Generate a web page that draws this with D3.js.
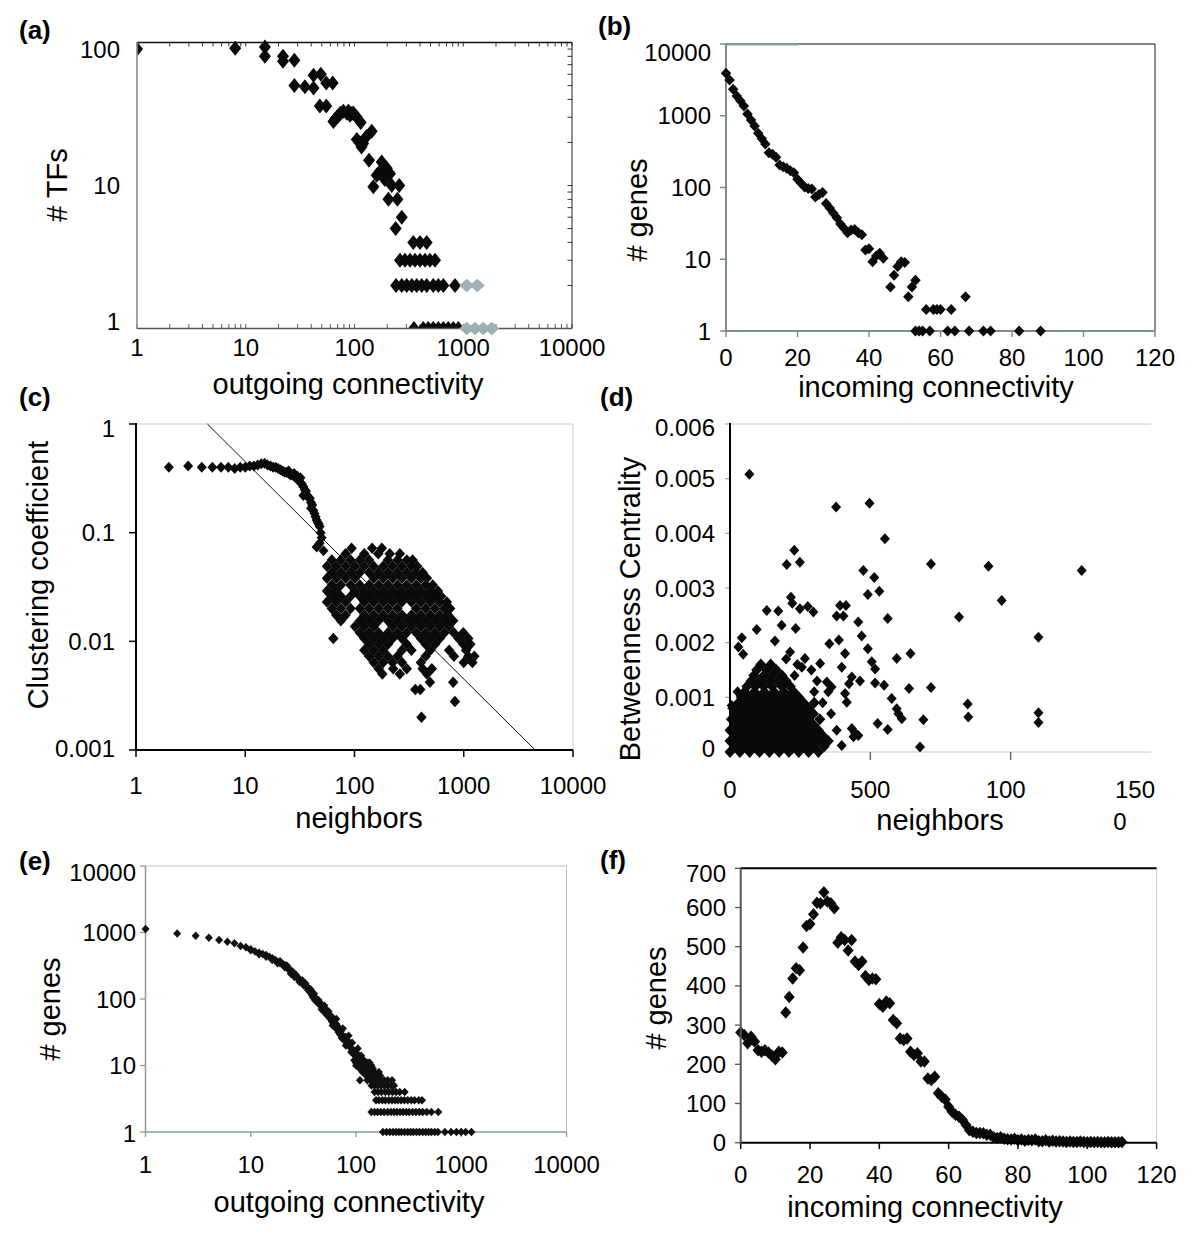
<!DOCTYPE html>
<html><head><meta charset="utf-8">
<script src="https://cdn.jsdelivr.net/npm/d3@7"></script>
<style>
body{margin:0;background:#fff}
svg{display:block;font-family:"Liberation Sans",Arial,Helvetica,sans-serif}
</style></head><body>
<svg id="chart" width="1200" height="1243"></svg>
<script>
// ---------------- DATA ----------------
// (a) outgoing connectivity of TFs (log-log)
const aTFsBlack = [[1,90],[8,91],[15,93],[15,80],[22,80],[22,74],[28,75],[28,50],[35,49],[42,59],[42,48],[49,60],[55,52],[63,52],[48,36],[55,36],
 [64,28],[66,29],[69,30],[72,31],[74,32],[79,33],[85,32],[88,33],[91,31],[95,32],[98,32],[105,30],[114,27.6],
 [144,24],[105,21],[112,20],[120,19.7],[129,22],[116,18.6],
 [136,15],[178,14.6],[198,13.2],[170,12.5],[160,11.8],[190,11],[149,9.8],[212,12.1],
 [220,10],[258,10],[205,8],[248,8],[272,6],[239,5],
 [347,4],[400,4],[461,4],
 [262,3],[291,3],[324,3],[360,3],[400,3],[445,3],[494,3],[550,3],
 [241,2],[272,2],[302,2],[336,2],[373,2],[415,2],[461,2],[530,2],[590,2],[656,2],[840,2],
 [352,1],[429,1],[477,1],[530,1],[590,1],[656,1],[729,1],[811,1],[901,1]];
const aTFsGrey = [[1076,2],[1346,2],[1076,1],[1282,1],[1528,1],[1827,1]];
const aXTicks = [1,10,100,1000,10000];
const aYTicks = [1,10,100];

// (b) incoming connectivity of genes (log y)
const bGenes = [[0,3900],[1,3150],[2,2340],[3,1880],[4,1620],[5,1370],[6,1060],[7,870],[8,720],[9,570],[10,480],[11,404],[12,305],[13,290],[14,263],[15,206],[16,195],[17,185],[18,171],[19,160],[20,130],[21,115],[22,102],[23,97],[24,95],[25,74],[26,80],[27,85],[28,60],[29,52],[30,44],[31,38],[32,31],[33,27],[34,23.4],[35,25.6],[36,26],[37,23.4],[38,22],[39,13.5],[40,14],[41,9.2],[42,11.1],[43,12.1],[44,10.3],[46,4.1],[47,6],[48,7.9],[49,9.2],[50,9],[51,3],[52,4.1],[53,5.1],
 [53,1],[54,1],[55,1],[56,2],[57,1],[58,2],[59,2],[60,2],[62,1],[63,2],[64,1],[67,3],[68,1],[72,1],[74,1],[82,1],[88,1]];
const bXTicks = [0,20,40,60,80,100,120];
const bYTicks = [1,10,100,1000,10000];

// (c) clustering coefficient vs neighbors (log-log)
const cPlateau = [[2,0.40],[3,0.41],[4,0.40],[5,0.40],[6,0.40],[7,0.40],[8,0.39],[9,0.40],[10,0.40],[11,0.41],[12,0.41],[13,0.42],[14,0.43],[15,0.435],[16,0.42],[17,0.41],[18,0.40],[19,0.40],[20,0.39],[21,0.38],[22,0.37],[23,0.36],[24,0.36],[25,0.35],[25,0.37],[26,0.34],[27,0.34],[28,0.33],[28,0.35],[29,0.32],[30,0.31],[30,0.33],[31,0.305],[32,0.29],[32,0.32],[33,0.28],[34,0.265],[34,0.22],[35,0.25],[36,0.24],[37,0.22],[38,0.21],[39,0.207],[40,0.19],[40,0.168],[41,0.18],[42,0.16],[43,0.15],[44,0.14],[45,0.131],[46,0.125],[47,0.12],[48,0.114],[49,0.1],[50,0.09],[45,0.074],[52,0.068],[48,0.08]];
const cCloudRows = [
 [0.072,[94,145,178]],
 [0.064,[83,123,165,210,260]],
 [0.056,[62,75,92,112,136,202,247,301,340]],
 [0.049,[56,68,83,101,123,150,183,223,272,332,375]],
 [0.043,[62,75,92,112,136,166,202,247,301,367,420]],
 [0.038,[56,68,83,101,150,183,223,272,332,405,460]],
 [0.033,[62,75,92,112,136,166,202,247,301,367,448,520]],
 [0.029,[56,68,101,123,150,183,223,272,332,405,494,580]],
 [0.026,[62,75,92,112,136,166,202,247,301,367,448,546,620]],
 [0.023,[56,68,83,123,150,183,223,272,332,405,494,603,700]],
 [0.020,[62,75,92,112,136,166,202,247,367,448,546,666,750]],
 [0.0175,[68,83,123,150,183,223,272,332,405,494,603,720]],
 [0.0155,[75,112,136,166,202,247,301,367,448,546,666,800]],
 [0.0137,[101,123,150,223,272,332,405,494,603,735]],
 [0.012,[112,136,166,202,247,301,367,448,546,666,812,990]],
 [0.0106,[64,123,150,183,223,272,405,494,603,897,1100]],
 [0.0094,[136,166,202,301,448,546,990,1150]],
 [0.0083,[123,150,183,272,332,494,735,1050]],
 [0.0073,[136,166,202,247,448,812,1100,1250]],
 [0.0064,[150,183,223,272,405,1000,1200]],
 [0.0056,[166,226,301,420,510]],
 [0.0050,[180,260,460]],
 [0.0042,[490,800]],
 [0.0036,[360,400]],
 [0.0028,[830]],
 [0.0020,[410]]];
const cFitLine = [[4.5,1],[4500,0.001]];
const cXTicks = [1,10,100,1000,10000];
const cYTicks = [0.001,0.01,0.1,1];
const cYLabels = ["0.001","0.01","0.1","1"];

// (d) betweenness centrality vs neighbors (linear)
const dCoreRows = [
 [0,[0,35,70,105,140,175,210,245,280,315]],
 [0.0001,[17,52,87,122,157,192,227,262,297,335]],
 [0.0002,[0,35,70,105,140,175,210,245,280,315,350]],
 [0.0003,[17,52,87,122,157,192,227,262,297,330]],
 [0.0004,[0,35,70,105,140,175,210,245,280,315]],
 [0.0005,[17,52,87,122,157,192,227,262,297]],
 [0.0006,[5,35,70,105,140,175,210,245,280,320]],
 [0.0007,[17,52,87,122,157,192,227,262,297]],
 [0.0008,[10,35,70,105,140,175,210,245,280]],
 [0.0009,[30,52,87,122,157,192,227,262,300]],
 [0.001,[40,70,105,140,175,210,245]],
 [0.0011,[52,87,122,157,192,227]],
 [0.0012,[60,90,120,150,185,215]],
 [0.0013,[75,105,140,170,200]],
 [0.0014,[85,120,150,185]],
 [0.0015,[95,130,165]],
 [0.0016,[110,145]]];
const dOutliers = [[69,0.00508],[378,0.00448],[497,0.00455],[552,0.0039],[229,0.00369],[202,0.00343],[249,0.00347],[716,0.00344],[921,0.0034],[1253,0.00332],[475,0.00332],[514,0.00319],[532,0.00294],[491,0.00288],[968,0.00277],[217,0.00283],[222,0.00272],[131,0.00259],[172,0.00258],[249,0.00262],[277,0.00266],[297,0.00256],[392,0.00268],[413,0.00268],[380,0.00249],[404,0.00249],[562,0.00244],[816,0.00247],[457,0.00238],[95,0.00224],[184,0.00232],[234,0.00226],[1099,0.0021],[42,0.00209],[160,0.00203],[469,0.00212],[30,0.00192],[388,0.00205],[491,0.00189],[354,0.00198],[47,0.00179],[214,0.00183],[410,0.0018],[594,0.00171],[643,0.0018],[505,0.00165],[517,0.00152],[398,0.00155],[321,0.00162],[267,0.00171],[256,0.00155],[463,0.0013],[517,0.00126],[549,0.00122],[638,0.00116],[716,0.00118],[424,0.00125],[576,0.00098],[594,0.00079],[600,0.0007],[612,0.00061],[689,0.00059],[526,0.00052],[562,0.00041],[677,0.00009],[847,0.00088],[849,0.00064],[1099,0.00072],[1099,0.00054],[398,0.00012],[434,0.00043],[445,0.00035],[457,0.0003],[440,0.00028],[327,0.00021],[380,0.0004],[410,0.00107],[416,0.00091],[350,0.0011],[362,0.00119],[345,0.00128],[434,0.00137],[300,0.0011],[310,0.0013],[330,0.0009],[360,0.0007],[290,0.0015],[230,0.0014],[240,0.0016],[200,0.0017],[27,0.0011],[6,0.00085]];
const dXTicks = [0,500,1000,1500];
const dXLabels = ["0","500","100","150"];
const dYTicks = [0,0.001,0.002,0.003,0.004,0.005,0.006];
const dYLabels = ["0","0.001","0.002","0.003","0.004","0.005","0.006"];

// (e) outgoing connectivity of genes (log-log)
const eCurve = [[1,1130],[2,970],[3,896],[4,835],[5,771],[6,728],[7,689],[8,627],[9,600],[10,558],[10,540],[11,520],[12,497],[13,475],[14,459],[15,430],[16,410],[17,390],[18,364],[19,345],[20,335],[21,324],[22,300],[23,275],[24,257],[25,240],[26,228],[27,216],[28,205],[30,190],[31,175],[33,172],[34,150],[36,140],[38,129],[38,115],[40,110],[42,100],[44,97],[44,85],[45,90],[46,82],[48,76],[50,80],[51,72],[51,62],[54,60],[55,65],[56,55],[59,54],[59,46],[60,40],[62,45],[65,42],[65,50],[68,38],[68,32],[70,30],[72,33],[75,28],[75,36],[79,27],[79,23],[80,20],[83,24],[85,28],[86,20],[90,18],[90,16],[92,22],[95,17],[96,12],[98,14],[100,15],[100,10],[104,18],[105,12],[108,9],[110,11],[112,14],[115,10],[118,12],[121,7.6],[125,9],[130,11],[109,6],
 [24,240],[26,215],[29,180],[32,160],[35,135],[37,125],[39,105],[41,95],[43,92],[47,70],[49,66],[53,57],[57,50],[61,42],[63,38],[66,35],[71,29],[73,26],[77,25],[82,22],[88,19],[94,15],[102,13],[107,14],[114,12],
 [12,470],[14,430],[16,385],[18,345],[19,370],[21,300],[22,320],[23,290],[25,260],[27,230],[29,200],[31,190],[33,160],[35,150],[37,140],[40,120]];
const eTailRows = [
 [12,[100,110,118]],
 [11,[100,112,125,135]],
 [10,[105,115,125,140]],
 [9,[110,120,132,145]],
 [8,[115,125,135,150,165]],
 [7,[125,135,145,158,170]],
 [6,[128,138,148,160,172,185,200,220]],
 [5,[140,150,160,172,185,200,215,230]],
 [4,[150,162,175,190,205,222,240,260,290]],
 [3,[155,165,178,190,205,220,235,250,268,288,310,335,360,395,424]],
 [2,[140,150,160,172,185,200,215,230,245,262,280,300,320,345,370,400,430,470,520,605]],
 [1,[180,195,210,225,240,255,270,290,310,330,350,375,400,430,460,490,520,560,600,700,800,900,1000,1100,1250]]];
const eXTicks = [1,10,100,1000,10000];
const eYTicks = [1,10,100,1000,10000];

// (f) incoming connectivity of genes (linear)
const fGenes = [[0,281],[1,275],[2,254],[3,270],[4,258],[5,236],[6,232],[7,236],[8,230],[9,222],[10,213],[11,232],[12,230],[13,332],[14,372],[15,419],[16,445],[17,440],[18,498],[19,553],[20,558],[21,583],[22,612],[23,611],[24,639],[25,615],[26,611],[27,598],[28,510],[29,524],[30,517],[31,490],[32,517],[33,462],[34,453],[35,462],[36,425],[37,415],[38,419],[39,417],[40,354],[41,347],[42,360],[43,356],[44,313],[45,305],[46,266],[47,262],[48,266],[49,232],[50,224],[51,228],[52,207],[53,207],[54,164],[55,160],[56,168],[57,126],[58,117],[59,110],[60,92],[61,79],[62,71],[63,66],[64,58],[65,45],[66,32],[67,28],[68,25],[69,25],[70,24],[71,20],[72,20],[73,14],[74,12],[75,14],[76,10],[77,9],[78,8],[79,10],[80,6],[81,8],[82,5],[83,7],[84,6],[85,8],[86,4],[87,4],[88,6],[89,3],[90,5],[91,3],[92,4],[93,3],[94,2],[95,3],[96,2],[97,2],[98,3],[99,2],[100,1],[101,2],[102,1],[103,2],[104,1],[105,1],[106,2],[107,1],[108,1],[109,1],[110,2]];
const fXTicks = [0,20,40,60,80,100,120];
const fYTicks = [0,100,200,300,400,500,600,700];

// ---------------- HELPERS ----------------
const svg = d3.select("#chart");
const TICK = 24, TITLE = 29;
function diamond(w,h){ return `M0,${-h/2}L${w/2},0L0,${h/2}L${-w/2},0Z`; }
function ln(g,x1,y1,x2,y2,stroke,w){ g.append("line").attr("x1",x1).attr("y1",y1).attr("x2",x2).attr("y2",y2).attr("stroke",stroke).attr("stroke-width",w); }
function pts(g,data,x,y,w,h,fill){
  return g.append("g").selectAll("path").data(data).join("path")
   .attr("d",diamond(w,h)).attr("fill",fill)
   .attr("transform",d=>`translate(${x(d[0])},${y(d[1])})`);
}
function txt(g,s,x,y,o={}){
  const t=g.append("text").attr("x",x).attr("y",y).text(s)
   .attr("font-size",o.size||TICK).attr("fill","#000")
   .attr("text-anchor",o.anchor||"middle");
  if(o.weight) t.attr("font-weight",o.weight);
  if(o.base) t.attr("dominant-baseline",o.base);
  if(o.rot) t.attr("transform",`rotate(-90,${x},${y})`);
  return t;
}
function rows(r){ return r.flatMap(([yv,xs])=>xs.map(xv=>[xv,yv])); }
function yLabels(g,ticks,labels,y,xr,topShift,botShift){
  const [y0,y1]=y.range();
  ticks.forEach((v,i)=>{
    let py=y(v);
    if(Math.abs(py-y1)<0.5) py+=topShift;
    if(Math.abs(py-y0)<0.5) py+=botShift;
    txt(g,labels[i],xr,py,{anchor:"end",base:"central"});
  });
}
function xLabels(g,ticks,labels,x,base,dx){
  ticks.forEach((v,i)=>txt(g,labels[i],x(v)+(dx?dx[i]:0),base));
}
const fmtInt = v=>String(v);

// ---------------- (a) ----------------
{
  const g=svg.append("g");
  const x=d3.scaleLog().domain([1,10000]).range([137,572]);
  const y=d3.scaleLog().domain([1,100]).range([328.5,42.5]);
  svg.append("defs").append("clipPath").attr("id","clipA").append("rect")
    .attr("x",x.range()[0]).attr("y",y.range()[1]-10).attr("width",x.range()[1]-x.range()[0]).attr("height",y.range()[0]-y.range()[1]+10);
  x.ticks().forEach(v=>{ ln(g,x(v),328.5,x(v),324,"#555",1); ln(g,x(v),42.5,x(v),46.5,"#333",1); });
  y.ticks().forEach(v=>ln(g,572,y(v),567.5,y(v),"#333",1));
  ln(g,137,42.5,572,42.5,"#111",1.3);
  ln(g,572,42.5,572,328.5,"#222",1);
  const gb=g.append("g").attr("clip-path","url(#clipA)");
  pts(gb,aTFsBlack,x,y,12,15,"#0a0a0a");
  ln(g,137,328.5,572,328.5,"#555",1.3);
  ln(g,137,42,137,329,"#8c8c8c",1.6);
  pts(g,aTFsGrey,x,y,15,13.5,"#9fb0b4");
  yLabels(g,aYTicks,aYTicks.map(fmtInt),y,120,7,-7);
  xLabels(g,aXTicks,aXTicks.map(fmtInt),x,356);
  txt(g,"# TFs",57,185,{size:TITLE,rot:true,base:"central"});
  txt(g,"outgoing connectivity",348,394,{size:TITLE});
  txt(g,"(a)",19,39,{size:26,weight:"bold",anchor:"start"});
}
// ---------------- (b) ----------------
{
  const g=svg.append("g");
  const x=d3.scaleLinear().domain([0,120]).range([726,1155]);
  const y=d3.scaleLog().domain([1,10000]).range([331,44]);
  ln(g,726,44,1155,44,"#111",1.2);
  ln(g,726,44.5,x(20),44.5,"#8a9ba2",2.2);
  ln(g,1155,44,1155,331,"#222",1);
  bXTicks.forEach(v=>ln(g,x(v),331,x(v),337,"#7d8e95",1.5));
  bYTicks.forEach(v=>ln(g,720,y(v),726,y(v),"#7d8e95",1.5));
  ln(g,726,331,1155,331,"#7d8e95",2);
  ln(g,726,43,726,332,"#7d8e95",2);
  pts(g,bGenes,x,y,10.5,11,"#0a0a0a");
  yLabels(g,bYTicks,bYTicks.map(fmtInt),y,711,8,0);
  xLabels(g,bXTicks,bXTicks.map(fmtInt),x,366);
  txt(g,"# genes",637,210,{size:TITLE,rot:true,base:"central"});
  txt(g,"incoming connectivity",936,397,{size:TITLE});
  txt(g,"(b)",598,35,{size:26,weight:"bold",anchor:"start"});
}
// ---------------- (c) ----------------
{
  const g=svg.append("g");
  const x=d3.scaleLog().domain([1,10000]).range([136,573]);
  const y=d3.scaleLog().domain([0.001,1]).range([750,424]);
  ln(g,136,424,573,424,"#c4ccd0",1);
  ln(g,573,424,573,750,"#c4ccd0",1);
  cXTicks.forEach(v=>ln(g,x(v),750,x(v),757,"#000",1.5));
  cYTicks.forEach(v=>ln(g,129,y(v),136,y(v),"#000",1.5));
  pts(g,cPlateau,x,y,10,11,"#0a0a0a");
  pts(g,rows(cCloudRows),x,y,10.5,11.5,"#0a0a0a");
  g.append("path").datum(cFitLine).attr("fill","none").attr("stroke","#111").attr("stroke-width",1)
   .attr("d",d3.line().x(d=>x(d[0])).y(d=>y(d[1])));
  ln(g,136,750,573,750,"#000",2);
  ln(g,136,423,136,751,"#000",2);
  yLabels(g,cYTicks,cYLabels,y,115,4,-2);
  xLabels(g,cXTicks,cXTicks.map(fmtInt),x,794);
  txt(g,"Clustering coefficient",38,575,{size:TITLE,rot:true,base:"central"});
  txt(g,"neighbors",359,828,{size:TITLE});
  txt(g,"(c)",19,406,{size:26,weight:"bold",anchor:"start"});
}
// ---------------- (d) ----------------
{
  const g=svg.append("g");
  const x=d3.scaleLinear().domain([0,1500]).range([730,1151]);
  const y=d3.scaleLinear().domain([0,0.006]).range([752,424]);
  ln(g,730,424,1151,424,"#c4ccd0",1);
  ln(g,730,752,1151,752,"#c4ccd0",1);
  dXTicks.slice(1,3).forEach(v=>ln(g,x(v),752,x(v),760,"#666",1.5));
  dYTicks.forEach(v=>ln(g,725,y(v),730,y(v),"#999",1));
  pts(g,rows(dCoreRows),x,y,11,12,"#0a0a0a");
  pts(g,dOutliers,x,y,10,11,"#0a0a0a");
  ln(g,730,423,730,753,"#000",2);
  yLabels(g,dYTicks,dYLabels,y,715,3,-4);
  xLabels(g,dXTicks,dXLabels,x,798,[0,0,-5,-16]);
  txt(g,"0",x(1500)-31,830);
  txt(g,"Betweenness Centrality",630,609,{size:TITLE,rot:true,base:"central"});
  txt(g,"neighbors",940,830,{size:TITLE});
  txt(g,"(d)",600,406,{size:26,weight:"bold",anchor:"start"});
}
// ---------------- (e) ----------------
{
  const g=svg.append("g");
  const x=d3.scaleLog().domain([1,10000]).range([145.5,566.5]);
  const y=d3.scaleLog().domain([1,10000]).range([1132,866]);
  ln(g,145.5,866,566.5,866,"#b4c0c6",1);
  ln(g,566.5,866,566.5,1132,"#b4c0c6",1);
  eXTicks.forEach(v=>ln(g,x(v),1132,x(v),1137,"#8a9aa2",1.3));
  eYTicks.forEach(v=>ln(g,140,y(v),145.5,y(v),"#8a9aa2",1.3));
  ln(g,145.5,1132,566.5,1132,"#8a9aa2",1.5);
  ln(g,145.5,866,145.5,1132,"#8a9aa2",1.5);
  pts(g,eCurve,x,y,8,8.5,"#111");
  pts(g,rows(eTailRows),x,y,8,8.5,"#111");
  yLabels(g,eYTicks,eYTicks.map(fmtInt),y,136,6,1);
  xLabels(g,eXTicks,eXTicks.map(fmtInt),x,1173);
  txt(g,"# genes",50,1009,{size:TITLE,rot:true,base:"central"});
  txt(g,"outgoing connectivity",349,1212,{size:TITLE});
  txt(g,"(e)",19,870,{size:26,weight:"bold",anchor:"start"});
}
// ---------------- (f) ----------------
{
  const g=svg.append("g");
  const x=d3.scaleLinear().domain([0,120]).range([740.7,1156.6]);
  const y=d3.scaleLinear().domain([0,700]).range([1142.7,868.3]);
  ln(g,1156.6,868.3,1156.6,1142.7,"#c4ccd0",1);
  fXTicks.forEach(v=>ln(g,x(v),1142.7,x(v),1149,"#000",1.5));
  fYTicks.forEach(v=>ln(g,735,y(v),740.7,y(v),"#555",1.3));
  pts(g,fGenes,x,y,11,12.5,"#0a0a0a");
  ln(g,740.7,868.3,1156.6,868.3,"#000",2);
  ln(g,740.7,1142.7,1156.6,1142.7,"#000",2);
  ln(g,740.7,867.5,740.7,1143.5,"#555",2);
  yLabels(g,fYTicks,fYTicks.map(fmtInt),y,726,5,0);
  xLabels(g,fXTicks,fXTicks.map(fmtInt),x,1183);
  txt(g,"# genes",656,998,{size:TITLE,rot:true,base:"central"});
  txt(g,"incoming connectivity",925,1217,{size:TITLE});
  txt(g,"(f)",600,869,{size:26,weight:"bold",anchor:"start"});
}
</script></body></html>
